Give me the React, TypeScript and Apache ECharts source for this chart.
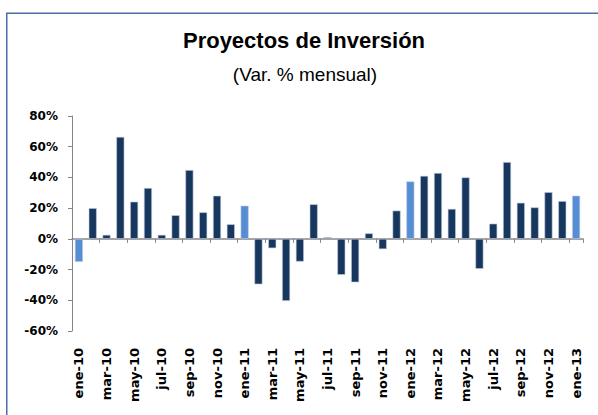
import React, { useEffect, useRef } from "react";
import * as echarts from "echarts";

const months = ["ene", "feb", "mar", "abr", "may", "jun", "jul", "ago", "sep", "oct", "nov", "dic"];
const years = ["10", "11", "12"];
const categories: string[] = [];
years.forEach((y) => months.forEach((m) => categories.push(`${m}-${y}`)));
categories.push("ene-13");

const values = [
  -15, 20, 2.6, 66.4, 24.2, 33.1, 2.6, 15.4, 44.8, 17.3, 28.1, 9.5,
  21.6, -29.6, -6.1, -40.4, -14.8, 22.5, 1, -23.4, -28.3, 3.6, -6.7, 18.4,
  37.4, 41, 42.9, 19.5, 40, -19.5, 9.9, 50, 23.5, 20.5, 30.4, 24.6,
  28.1,
];

const yTicks = { min: -60, max: 80, interval: 20 };

const titleText = "Proyectos de Inversión";
const subtitleText = "(Var. % mensual)";

const DARK = "#17375E";
const LIGHT = "#558ED5";

export default function App() {
  const ref = useRef<HTMLDivElement>(null);
  useEffect(() => {
    if (!ref.current) return;
    const chart = echarts.init(ref.current, null, { renderer: "svg" });
    const axisFont = "DejaVu Sans";
    chart.setOption({
      animation: false,
      backgroundColor: "#fff",
      graphic: [
        {
          type: "rect",
          shape: { x: 6.75, y: 13.25, width: 700, height: 500 },
          style: { fill: "none", stroke: "#4a6ea5", lineWidth: 1.5 },
          silent: true,
        },
        {
          type: "text",
          x: 304,
          y: 40,
          style: {
            text: titleText,
            fontFamily: "Liberation Sans",
            fontWeight: "bold",
            fontSize: 22,
            fill: "#000",
            textAlign: "center",
            textVerticalAlign: "middle",
          },
        },
        {
          type: "text",
          x: 305,
          y: 74,
          style: {
            text: subtitleText,
            fontFamily: "Liberation Sans",
            fontSize: 19,
            fill: "#000",
            textAlign: "center",
            textVerticalAlign: "middle",
          },
        },
      ],
      grid: { left: 72, right: 15, top: 116, bottom: 84 },
      xAxis: [
        {
          type: "category",
          data: categories,
          axisLine: { onZero: true, lineStyle: { color: "#868686", width: 1.5 } },
          axisTick: { show: true, interval: 1, length: 4, lineStyle: { color: "#868686" } },
          axisLabel: { show: false },
          splitLine: { show: false },
        },
        {
          type: "category",
          data: categories,
          position: "bottom",
          axisLine: { show: false, onZero: false },
          axisTick: { show: false },
          axisLabel: {
            show: true,
            interval: 1,
            rotate: 90,
            margin: 17,
            fontFamily: axisFont,
            fontWeight: "bold",
            fontSize: 13,
            color: "#000",
          },
          splitLine: { show: false },
        },
      ],
      yAxis: {
        type: "value",
        min: yTicks.min,
        max: yTicks.max,
        interval: yTicks.interval,
        axisLine: { show: true, lineStyle: { color: "#868686" } },
        axisTick: { show: true, length: 4, lineStyle: { color: "#868686" } },
        splitLine: { show: false },
        axisLabel: {
          formatter: "{value}%",
          margin: 14,
          fontFamily: axisFont,
          fontWeight: "bold",
          fontSize: 12,
          color: "#000",
        },
      },
      series: [
        {
          type: "bar",
          xAxisIndex: 0,
          barWidth: 8,
          data: values.map((v, i) => ({
            value: v,
            itemStyle: {
              color: categories[i].startsWith("ene") ? LIGHT : DARK,
              borderColor: "#c3cddd",
              borderWidth: 0.6,
            },
          })),
        },
      ],
    });
    return () => chart.dispose();
  }, []);
  return (
    <div
      ref={ref}
      style={{ position: "absolute", left: 0, top: 0, width: 598, height: 415 }}
    />
  );
}
